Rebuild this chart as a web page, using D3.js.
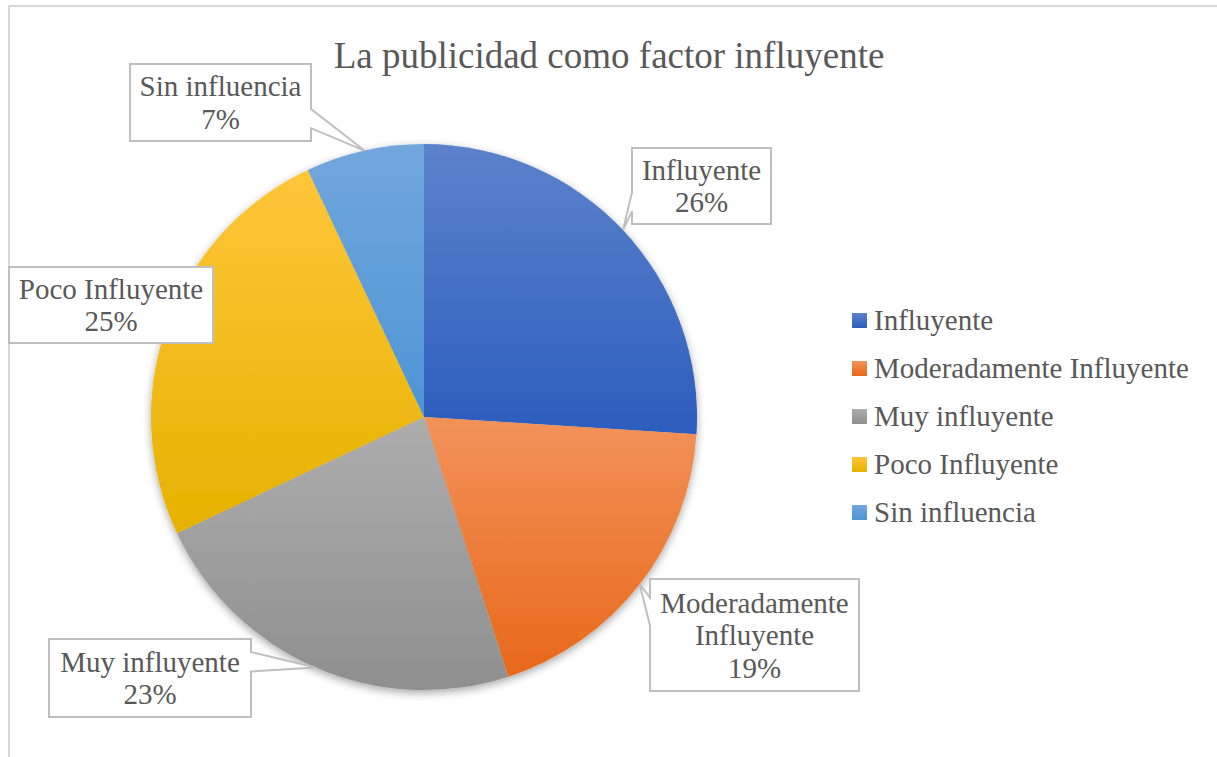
<!DOCTYPE html>
<html><head><meta charset="utf-8">
<script src="https://cdn.jsdelivr.net/npm/d3@7/dist/d3.min.js"></script>
<style>html,body{margin:0;padding:0;background:#fff;}svg{display:block;}</style>
</head><body>
<svg id="chart" width="1217" height="757"></svg>
<script>
const title = "La publicidad como factor influyente";
const categories = ["Influyente", "Moderadamente Influyente", "Muy influyente", "Poco Influyente", "Sin influencia"];
const values = [26, 19, 23, 25, 7];
const labelLines = [["Influyente"], ["Moderadamente", "Influyente"], ["Muy influyente"], ["Poco Influyente"], ["Sin influencia"]];
const topColors = ["#5c82cb", "#f2925a", "#adadad", "#ffc63a", "#72a7dc"];
const bottomColors = ["#2c5dbe", "#e8681a", "#8f8f8f", "#e5b200", "#4d95d6"];
// callout boxes: [x, y, w, h]
const boxes = [[632, 148, 139, 76], [650, 579, 209, 112], [49, 639, 202, 78], [9, 267, 204, 76], [130, 64, 181, 77]];

const svg = d3.select("#chart");
const W = 1217, H = 757;
const cx = 424, cy = 417, R = 273;
const textColor = "#595959";
const font = "'Liberation Serif', 'Times New Roman', serif";

const defs = svg.append("defs");
const f = defs.append("filter").attr("id", "shadow").attr("x", "-20%").attr("y", "-20%").attr("width", "140%").attr("height", "140%");
f.append("feDropShadow").attr("dx", 0).attr("dy", 3).attr("stdDeviation", 4).attr("flood-color", "#000").attr("flood-opacity", 0.35);

categories.forEach((c, i) => {
  const g = defs.append("linearGradient").attr("id", "grad" + i).attr("x1", 0).attr("y1", 0).attr("x2", 0).attr("y2", 1);
  g.append("stop").attr("offset", "0%").attr("stop-color", topColors[i]);
  g.append("stop").attr("offset", "100%").attr("stop-color", bottomColors[i]);
});

// chart border
svg.append("rect").attr("x", 9).attr("y", 6).attr("width", W + 20).attr("height", H + 20)
  .attr("fill", "none").attr("stroke", "#d9d9d9").attr("stroke-width", 2);

// title
svg.append("text").attr("x", 609).attr("y", 68).attr("text-anchor", "middle")
  .attr("font-family", font).attr("font-size", 37).attr("fill", textColor).text(title);

const pie = d3.pie().sort(null).value(d => d)(values);
const arc = d3.arc().innerRadius(0).outerRadius(R);

const pg = svg.append("g").attr("transform", `translate(${cx},${cy})`).attr("filter", "url(#shadow)");
pg.selectAll("path").data(pie).join("path")
  .attr("d", arc)
  .attr("fill", (d, i) => `url(#grad${i})`);

// callouts
const cg = svg.append("g");
pie.forEach((d, i) => {
  const mid = (d.startAngle + d.endAngle) / 2;
  const tx = cx + R * Math.sin(mid), ty = cy - R * Math.cos(mid);
  const [bx, by, bw, bh] = boxes[i];
  const inside = tx >= bx && tx <= bx + bw && ty >= by && ty <= by + bh;
  let p;
  if (inside) {
    p = `M${bx},${by}H${bx + bw}V${by + bh}H${bx}Z`;
  } else {
    const dxPos = tx - (bx + bw / 2), dyPos = ty - (by + bh / 2);
    const y1 = by + bh * (dyPos > 0 ? 7 : 2) / 12, y2 = by + bh * (dyPos > 0 ? 10 : 5) / 12;
    if (dxPos > 0) {
      p = `M${bx},${by}H${bx + bw}V${y1}L${tx},${ty}L${bx + bw},${y2}V${by + bh}H${bx}Z`;
    } else {
      p = `M${bx},${by}H${bx + bw}V${by + bh}H${bx}V${y2}L${tx},${ty}L${bx},${y1}Z`;
    }
  }
  cg.append("path").attr("d", p).attr("fill", "#fff").attr("stroke", "#bfbfbf").attr("stroke-width", 2).attr("stroke-linejoin", "miter");
  const lines = labelLines[i].concat([values[i] + "%"]);
  const lh = 32.5;
  const firstBase = by + bh / 2 - (lines.length - 1) * lh / 2 + 10;
  const t = cg.append("text").attr("text-anchor", "middle").attr("font-family", font)
    .attr("font-size", 29).attr("fill", textColor);
  lines.forEach((ln, k) => {
    t.append("tspan").attr("x", bx + bw / 2).attr("y", firstBase + k * lh).text(ln);
  });
});

// legend
const lg = svg.append("g");
categories.forEach((c, i) => {
  const y = 313 + i * 48;
  lg.append("rect").attr("x", 852).attr("y", y).attr("width", 15).attr("height", 15).attr("fill", `url(#grad${i})`);
  lg.append("text").attr("x", 874).attr("y", y + 17).attr("font-family", font).attr("font-size", 29)
    .attr("fill", textColor).text(c);
});
</script>
</body></html>
